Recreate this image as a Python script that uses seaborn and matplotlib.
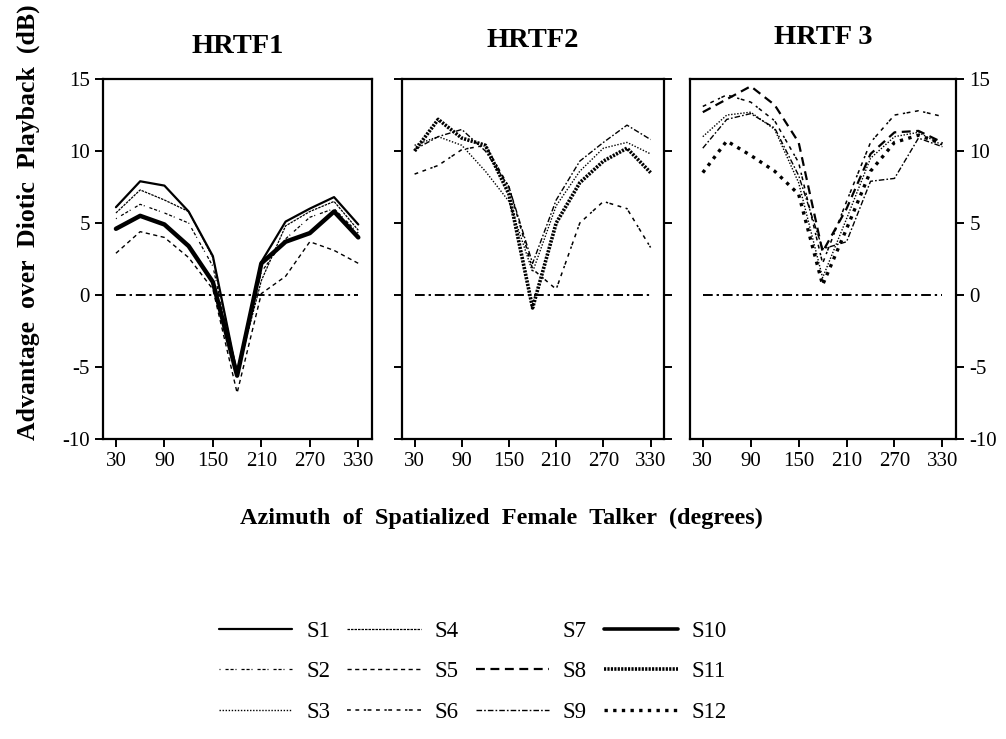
import matplotlib
matplotlib.use("Agg")
import matplotlib.pyplot as plt
from matplotlib.lines import Line2D
import seaborn as sns
import pandas as pd

# azimuth of the spatialized female talker (degrees)
azimuth = [30, 60, 90, 120, 150, 180, 210, 240, 270, 300, 330]
diotic = [0] * 11

# HRTF1
h1_s1 = [6.1, 7.9, 7.6, 5.8, 2.7, -5.5, 2.3, 5.1, 6.0, 6.8, 4.9]
h1_s2 = [5.3, 6.3, 5.7, 5.0, 2.0, -5.8, 1.6, 3.9, 5.4, 6.0, 4.3]
h1_s4 = [5.7, 7.3, 6.6, 5.8, 2.6, -5.5, 1.0, 4.8, 5.8, 6.5, 4.5]
h1_s5 = [2.9, 4.4, 4.0, 2.6, 0.4, -6.8, 0.1, 1.3, 3.7, 3.1, 2.2]
h1_s10 = [4.6, 5.5, 4.9, 3.4, 0.9, -5.6, 2.2, 3.7, 4.3, 5.8, 4.0]

# HRTF2
h2_s3 = [10.4, 11.0, 10.4, 8.6, 6.5, 1.6, 6.2, 8.6, 10.2, 10.6, 9.8]
h2_s6 = [8.4, 9.0, 10.1, 10.4, 7.5, 1.8, 0.4, 5.0, 6.5, 6.0, 3.3]
h2_s9 = [10.1, 11.0, 11.5, 10.0, 7.5, 2.2, 6.6, 9.3, 10.6, 11.8, 10.8]
h2_s11 = [10.0, 12.2, 10.9, 10.4, 7.0, -0.9, 5.0, 7.8, 9.3, 10.2, 8.5]

# HRTF 3
h3_s3 = [11.0, 12.5, 12.7, 11.5, 7.8, 1.2, 5.3, 9.5, 11.0, 11.3, 10.4]
h3_s6 = [13.1, 13.9, 13.4, 12.1, 9.2, 2.2, 6.5, 10.6, 12.5, 12.8, 12.4]
h3_s8 = [12.7, 13.6, 14.5, 13.2, 10.6, 3.0, 6.0, 9.8, 11.3, 11.4, 10.6]
h3_s9 = [10.2, 12.2, 12.6, 11.6, 8.3, 3.2, 3.7, 7.9, 8.1, 10.9, 10.3]
h3_s12 = [8.5, 10.7, 9.7, 8.6, 7.0, 0.7, 4.6, 8.6, 10.6, 11.1, 10.5]

panel_titles = ["HRTF1", "HRTF2", "HRTF 3"]
panels = [
    {"S1": h1_s1, "S2": h1_s2, "S4": h1_s4, "S5": h1_s5, "S10": h1_s10},
    {"S3": h2_s3, "S6": h2_s6, "S9": h2_s9, "S11": h2_s11},
    {"S3": h3_s3, "S6": h3_s6, "S8": h3_s8, "S9": h3_s9, "S12": h3_s12},
]
subjects = ["S1", "S2", "S3", "S4", "S5", "S6", "S7", "S8", "S9", "S10", "S11", "S12"]

# line style per subject: (linestyle, linewidth)
styles = {
    "S1": ("-", 1.6),
    "S2": ((0, (0.8, 4, 2.5, 1.5, 2.5, 1.5)), 0.9),
    "S3": ((0, (1, 1.2)), 1.0),
    "S4": ((0, (2, 0.8)), 0.9),
    "S5": ((0, (3, 2.5)), 1.0),
    "S6": ((0, (2.5, 3, 2.5, 3, 1.5, 1)), 1.1),
    "S7": ("None", 1.0),
    "S8": ((0, (4, 2.5)), 1.6),
    "S9": ((0, (4, 1.5, 1.2, 1.5)), 1.0),
    "S10": ("-", 3.2),
    "S11": ((0, (0.6, 0.35)), 2.6),
    "S12": ((0, (1, 1.6)), 2.4),
}
base_style = ((0, (5, 2, 1.2, 2)), 1.4)

sns.set_theme(style="ticks")
plt.rcParams['font.family'] = ['Liberation Serif', 'DejaVu Serif']
plt.rcParams['axes.unicode_minus'] = False
plt.rcParams['text.color'] = 'black'

fig = plt.figure(figsize=(10.06, 7.39), dpi=100)
rects = [
    [0.1024, 0.406, 0.2674, 0.487],
    [0.3996, 0.406, 0.2604, 0.487],
    [0.6859, 0.406, 0.2644, 0.487],
]
title_pads = [19, 23, 25]

for i, rect in enumerate(rects):
    ax = fig.add_axes(rect)
    for subj, vals in panels[i].items():
        ls, lw = styles[subj]
        df = pd.DataFrame({"Azimuth": azimuth, "Advantage": vals})
        sns.lineplot(data=df, x="Azimuth", y="Advantage", ax=ax, color="black",
                     linestyle=ls, linewidth=lw)
    df0 = pd.DataFrame({"Azimuth": azimuth, "Advantage": diotic})
    sns.lineplot(data=df0, x="Azimuth", y="Advantage", ax=ax, color="black",
                 linestyle=base_style[0], linewidth=base_style[1])

    ax.set_xlim(14, 347)
    ax.set_ylim(-10, 15)
    ax.set_xticks([30, 90, 150, 210, 270, 330])
    ax.set_yticks([-10, -5, 0, 5, 10, 15])
    ax.set_xlabel("")
    ax.set_ylabel("")
    for sp in ax.spines.values():
        sp.set_linewidth(1.6)
        sp.set_color("black")
    ax.tick_params(axis="both", direction="out", length=6, width=1.4,
                   labelsize=15, colors="black")
    if i == 0:
        ax.tick_params(axis="y", left=True, right=False, labelleft=True, labelright=False)
    elif i == 1:
        ax.tick_params(axis="y", left=True, right=True, labelleft=False, labelright=False)
    else:
        ax.tick_params(axis="y", left=False, right=True, labelleft=False, labelright=True)
    ax.set_title(panel_titles[i], fontsize=20.5, fontweight="bold", pad=title_pads[i],
                 color="black")

fig.text(0.028, 0.7, "Advantage  over  Diotic  Playback  (dB)", rotation=90,
         ha="center", va="center", fontsize=18.5, fontweight="bold", color="black")
fig.text(0.498, 0.299, "Azimuth  of  Spatialized  Female  Talker  (degrees)",
         ha="center", va="center", fontsize=17.5, fontweight="bold", color="black")

handles = []
for s in subjects:
    ls, lw = styles[s]
    handles.append(Line2D([], [], color="black", linestyle=ls, linewidth=min(lw, 2.6)))
fig.legend(handles, subjects, loc="center", bbox_to_anchor=(0.47, 0.091), ncol=4,
           frameon=False, fontsize=16.5, handlelength=3.2, handletextpad=0.6,
           columnspacing=0.75, labelspacing=0.85)

plt.savefig("out.png", dpi=100)
